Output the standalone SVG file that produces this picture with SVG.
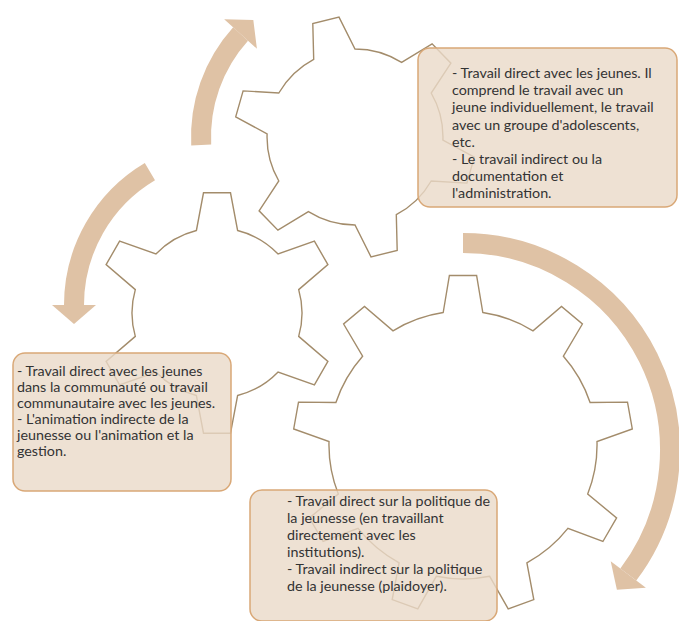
<svg xmlns="http://www.w3.org/2000/svg" width="679" height="621" viewBox="0 0 679 621">
<style>
.gear{fill:#ffffff;stroke:#a38c6b;stroke-width:1.4;stroke-linejoin:miter}
.arr{fill:none;stroke:#dfc2a5;stroke-width:20}
.head{fill:#dfc2a5}
.box{fill:#ead9c8;fill-opacity:0.8;stroke:#d9a877;stroke-width:1.5}
.txt{font-family:Lato,"Liberation Sans",sans-serif;font-size:14.3px;fill:#333333}
</style>
<rect width="679" height="621" fill="#ffffff"/>
<g id="gear-top">
<path class="gear" d="M313.7,59.3 L312.8,23.6 L339.0,17.1 L355,49 A88 88 0 0 1 401.6,62.4 L432.1,43.8 L450.9,63.2 L431.2,93 A88 88 0 0 1 442.9,140.1 L474.3,157.2 L466.9,183.1 L431.2,181 A88 88 0 0 1 396.3,214.7 L397.2,250.4 L371.0,256.9 L355,225 A88 88 0 0 1 308.4,211.6 L277.9,230.2 L259.1,210.8 L278.8,181 A88 88 0 0 1 267.1,133.9 L235.7,116.8 L243.1,90.9 L278.8,93 A88 88 0 0 1 313.7,59.3 Z"/>
</g>
<g id="gear-left">
<path class="gear" d="M196.4,230.5 L203.5,192.8 L230.5,192.8 L237.6,230.5 A85 85 0 0 1 278.1,254.0 L314.4,241.2 L327.9,264.6 L298.7,289.6 A85 85 0 0 1 298.7,336.4 L327.9,361.4 L314.4,384.8 L278.1,372.0 A85 85 0 0 1 237.6,395.5 L230.5,433.2 L203.5,433.2 L196.4,395.5 A85 85 0 0 1 155.9,372.0 L119.6,384.8 L106.1,361.4 L135.3,336.4 A85 85 0 0 1 135.3,289.6 L106.1,264.6 L119.6,241.2 L155.9,254.0 A85 85 0 0 1 196.4,230.5 Z"/>
</g>
<g id="gear-bottom">
<path class="gear" d="M443.2,312.5 L449.4,275.5 L476.6,275.5 L482.8,312.5 A134 134 0 0 1 533.0,330.8 L561.5,306.4 L582.4,324.0 L563.4,356.2 A134 134 0 0 1 590.1,402.5 L627.5,402.1 L632.3,429.0 L597.0,441.5 A134 134 0 0 1 587.7,494.1 L616.6,517.9 L602.9,541.5 L567.9,528.4 A134 134 0 0 1 526.9,562.8 L533.8,599.6 L508.2,608.9 L489.7,576.3 A134 134 0 0 1 436.3,576.3 L417.8,608.9 L392.2,599.6 L399.1,562.8 A134 134 0 0 1 358.1,528.4 L323.1,541.5 L309.4,517.9 L338.3,494.1 A134 134 0 0 1 329.0,441.5 L293.7,429.0 L298.5,402.1 L335.9,402.5 A134 134 0 0 1 362.6,356.2 L343.6,324.0 L364.5,306.4 L393.0,330.8 A134 134 0 0 1 443.2,312.5 Z"/>
</g>
<g id="connectors">
<path class="arr" d="M201.2,145.1 A154 154 0 0 1 240.6,34.0"/>
<polygon class="head" points="224.2,19.2 253.3,19.9 256.9,48.7"/>
<path class="arr" d="M149.9,171.7 A155 155 0 0 0 74,305"/>
<polygon class="head" points="52,305 74,324 96,305"/>
<path class="arr" d="M463,243 A207 207 0 0 1 628.3,574.6"/>
<polygon class="head" points="645.9,587.8 616.9,589.8 610.7,561.3"/>
</g>
<g id="box-top">
<rect class="box" x="418" y="48" width="259" height="159" rx="12"/>
<text class="txt" x="452" y="78">- Travail direct avec les jeunes. Il</text>
<text class="txt" x="452" y="95.2">comprend le travail avec un</text>
<text class="txt" x="452" y="112.4">jeune individuellement, le travail</text>
<text class="txt" x="452" y="129.6">avec un groupe d'adolescents,</text>
<text class="txt" x="452" y="146.8">etc.</text>
<text class="txt" x="452" y="164">- Le travail indirect ou la</text>
<text class="txt" x="452" y="181.2">documentation et</text>
<text class="txt" x="452" y="198.4">l'administration.</text>
</g>
<g id="box-left">
<rect class="box" x="13" y="353" width="218" height="138" rx="12"/>
<text class="txt" x="17" y="376">- Travail direct avec les jeunes</text>
<text class="txt" x="17" y="392">dans la communauté ou travail</text>
<text class="txt" x="17" y="408">communautaire avec les jeunes.</text>
<text class="txt" x="17" y="424">- L'animation indirecte de la</text>
<text class="txt" x="17" y="440">jeunesse ou l'animation et la</text>
<text class="txt" x="17" y="456">gestion.</text>
</g>
<g id="box-bottom">
<rect class="box" x="250" y="490" width="247" height="131" rx="12"/>
<text class="txt" x="287" y="506">- Travail direct sur la politique de</text>
<text class="txt" x="287" y="523">la jeunesse (en travaillant</text>
<text class="txt" x="287" y="540">directement avec les</text>
<text class="txt" x="287" y="557">institutions).</text>
<text class="txt" x="287" y="574">- Travail indirect sur la politique</text>
<text class="txt" x="287" y="591">de la jeunesse (plaidoyer).</text>
</g>
</svg>
